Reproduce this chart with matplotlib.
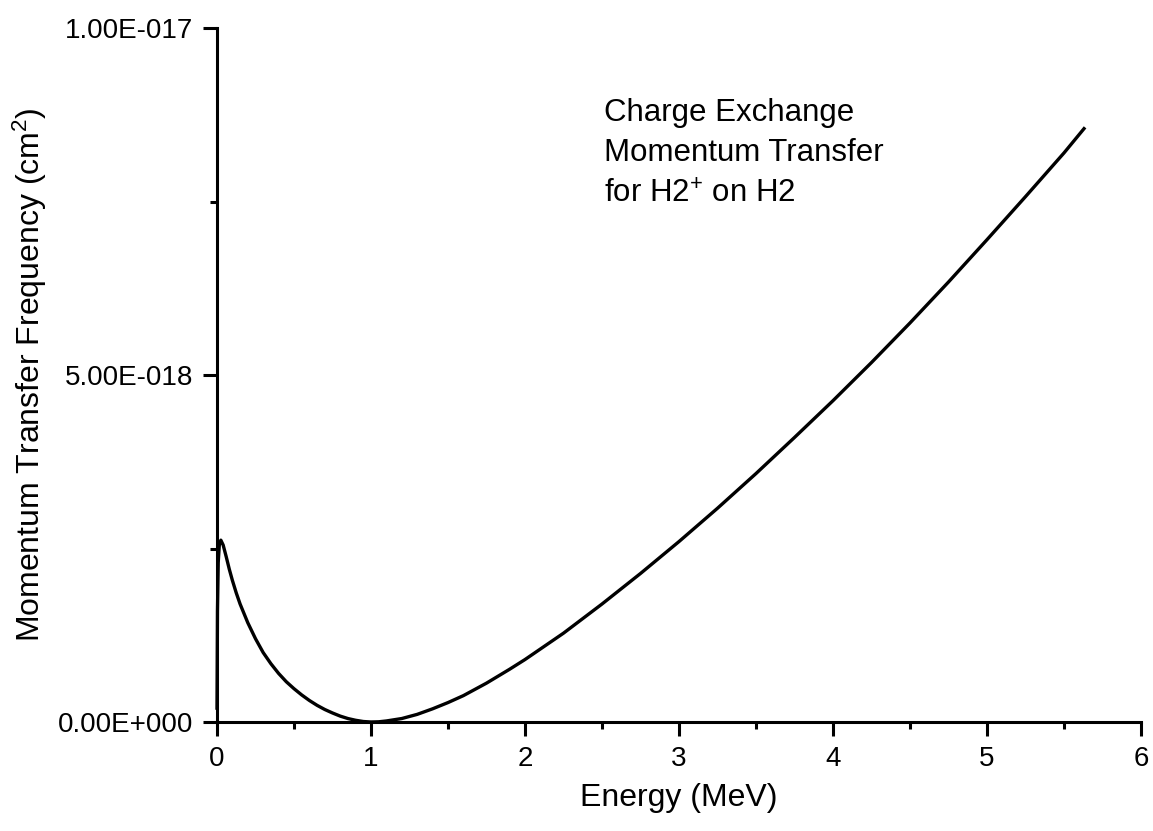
import numpy as np
import matplotlib
matplotlib.use("Agg")
import matplotlib.pyplot as plt
from matplotlib.ticker import FixedLocator, FixedFormatter

plt.rcParams['font.family'] = ['Liberation Sans', 'DejaVu Sans']
plt.rcParams['mathtext.fontset'] = 'custom'
plt.rcParams['mathtext.rm'] = 'Liberation Sans'
plt.rcParams['mathtext.default'] = 'regular'

# data (energy in MeV, cross section in 1e-18 cm^2)
energy = [0.0, 0.003, 0.008, 0.015, 0.025, 0.04, 0.06, 0.08, 0.1, 0.125,
          0.15, 0.2, 0.25, 0.3, 0.35, 0.4, 0.45, 0.5, 0.55, 0.6, 0.65, 0.7,
          0.75, 0.8, 0.85, 0.9, 0.95, 1.0, 1.05, 1.1, 1.2, 1.3, 1.4, 1.5,
          1.6, 1.75, 1.9, 2.0, 2.25, 2.5, 2.75, 3.0, 3.25, 3.5, 3.75, 4.0,
          4.25, 4.5, 4.75, 5.0, 5.25, 5.5, 5.63]
freq_e18 = [0.2, 1.6, 2.3, 2.55, 2.62, 2.55, 2.38, 2.2, 2.04, 1.86,
            1.7, 1.43, 1.2, 1.0, 0.84, 0.7, 0.58, 0.48, 0.39, 0.31, 0.24, 0.18,
            0.13, 0.085, 0.05, 0.025, 0.007, 0.0, 0.003, 0.015, 0.05, 0.11, 0.19, 0.28,
            0.38, 0.56, 0.76, 0.9, 1.28, 1.7, 2.14, 2.6, 3.08, 3.58, 4.1, 4.63,
            5.18, 5.75, 6.34, 6.95, 7.57, 8.2, 8.55]

x_ticks = [0, 1, 2, 3, 4, 5, 6]
x_minor = [0.5, 1.5, 2.5, 3.5, 4.5, 5.5]
y_ticks = [0.0, 5e-18, 1e-17]
y_tick_labels = ['0.00E+000', '5.00E-018', '1.00E-017']
y_minor = [2.5e-18, 7.5e-18]

note_lines = ['Charge Exchange', 'Momentum Transfer', 'for H2$^{+}$ on H2']

freq = np.array(freq_e18) * 1e-18

fig = plt.figure(figsize=(11.53, 8.31), dpi=100)
ax = fig.add_axes([217 / 1153, 1 - 722 / 831, 924 / 1153, 694 / 831])

ax.plot(energy, freq, color='black', lw=2.4, clip_on=False,
        solid_joinstyle='round')

ax.set_xlim(0, 6)
ax.set_ylim(0, 1e-17)
ax.spines['top'].set_visible(False)
ax.spines['right'].set_visible(False)
for s in ['left', 'bottom']:
    ax.spines[s].set_linewidth(2.2)

ax.xaxis.set_major_locator(FixedLocator(x_ticks))
ax.xaxis.set_minor_locator(FixedLocator(x_minor))
ax.yaxis.set_major_locator(FixedLocator(y_ticks))
ax.yaxis.set_major_formatter(FixedFormatter(y_tick_labels))
ax.yaxis.set_minor_locator(FixedLocator(y_minor))
ax.tick_params(which='major', direction='out', length=10, width=2.2,
               labelsize=20, pad=7)
ax.tick_params(which='minor', direction='out', length=5, width=2.2)

ax.set_xlabel('Energy (MeV)', fontsize=23)
ax.set_ylabel('Momentum Transfer Frequency (cm$^{2}$)', fontsize=23)
ax.xaxis.set_label_coords(0.5, -0.088)
ax.yaxis.set_label_coords(-0.182, 0.5)

baselines = [121, 161, 203]
for line, yb in zip(note_lines, baselines):
    fig.text(604 / 1153, 1 - yb / 831, line, fontsize=22.5, va='baseline')

fig.savefig('out.png', dpi=100)
